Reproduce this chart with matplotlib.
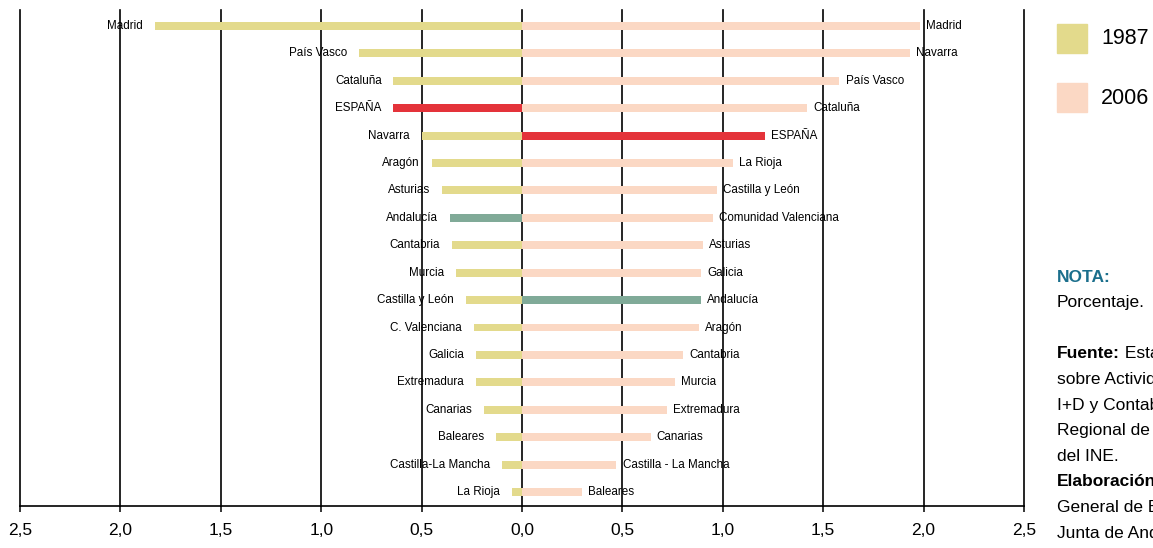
import matplotlib
matplotlib.use('Agg')
import matplotlib.pyplot as plt

# 1987 (left side), ordered top to bottom
regions_1987 = ['Madrid', 'País Vasco', 'Cataluña', 'ESPAÑA', 'Navarra', 'Aragón',
                'Asturias', 'Andalucía', 'Cantabria', 'Murcia', 'Castilla y León',
                'C. Valenciana', 'Galicia', 'Extremadura', 'Canarias', 'Baleares',
                'Castilla-La Mancha', 'La Rioja']
values_1987 = [1.83, 0.81, 0.64, 0.64, 0.50, 0.45, 0.40, 0.36, 0.35, 0.33, 0.28,
               0.24, 0.23, 0.23, 0.19, 0.13, 0.10, 0.05]

# 2006 (right side), ordered top to bottom
regions_2006 = ['Madrid', 'Navarra', 'País Vasco', 'Cataluña', 'ESPAÑA', 'La Rioja',
                'Castilla y León', 'Comunidad Valenciana', 'Asturias', 'Galicia',
                'Andalucía', 'Aragón', 'Cantabria', 'Murcia', 'Extremadura',
                'Canarias', 'Castilla - La Mancha', 'Baleares']
values_2006 = [1.98, 1.93, 1.58, 1.42, 1.21, 1.05, 0.97, 0.95, 0.90, 0.89, 0.89,
               0.88, 0.80, 0.76, 0.72, 0.64, 0.47, 0.30]

ticks = [-2.5, -2.0, -1.5, -1.0, -0.5, 0.0, 0.5, 1.0, 1.5, 2.0, 2.5]

c1987 = '#e3da8c'
c2006 = '#fbd8c4'
c_spain = '#e4333a'
c_anda = '#80aa98'
plt.rcParams['font.family'] = ['Liberation Sans', 'DejaVu Sans']

W, H = 1153, 548
fig = plt.figure(figsize=(W / 100, H / 100), dpi=100)
ax = fig.add_axes([20 / W, 1 - 506 / H, 1004 / W, 496 / H])


def bar_color(name, base):
    if name == 'ESPAÑA':
        return c_spain
    if name == 'Andalucía':
        return c_anda
    return base


for i, (name, v) in enumerate(zip(regions_1987, values_1987)):
    ax.barh(i, -v, height=0.29, color=bar_color(name, c1987), zorder=2)
    ax.annotate(name, (-v, i), xytext=(-8.5, 0), textcoords='offset points',
                ha='right', va='center', fontsize=8.4, zorder=3)

for i, (name, v) in enumerate(zip(regions_2006, values_2006)):
    ax.barh(i, v, height=0.29, color=bar_color(name, c2006), zorder=2)
    ax.annotate(name, (v, i), xytext=(4.5, 0), textcoords='offset points',
                ha='left', va='center', fontsize=8.4, zorder=3)

# vertical grid lines
for t in ticks:
    ax.axvline(t, color='black', lw=1.2, zorder=1, clip_on=False)

ax.set_xlim(-2.5, 2.5)
ax.set_ylim(len(regions_1987) - 1 + 0.51, -0.58)
ax.set_xticks(ticks)
ax.set_xticklabels([f'{abs(t):.1f}'.replace('.', ',') for t in ticks], fontsize=12.5)
ax.tick_params(axis='x', direction='out', length=4, width=1.1, pad=8)
ax.set_yticks([])
for s in ['left', 'right', 'top']:
    ax.spines[s].set_visible(False)
ax.spines['bottom'].set_linewidth(1.2)


def px(x, y):
    return x / W, 1 - y / H


# legend
for y0, col, lab in [(24, c1987, '1987'), (83, c2006, '2006')]:
    fig.patches.append(plt.Rectangle(px(1057, y0 + 29), 30 / W, 29 / H,
                                     transform=fig.transFigure, color=col))
    fig.text(*px(1101, y0 + 15), lab, fontsize=15.5, va='center', ha='left')

# notes
fig.text(*px(1057, 277), 'NOTA:', fontsize=12.5, fontweight='bold', color='#1b6f8c',
         va='center')
fig.text(*px(1057, 303), 'Porcentaje.', fontsize=12.5, va='center')

lines = [('Fuente:', ' Estadística'), ('', 'sobre Actividades de'), ('', 'I+D y Contabilidad'),
         ('', 'Regional de España'), ('', 'del INE.'), ('Elaboración:', ' Dirección'),
         ('', 'General de Economía.'), ('', 'Junta de Andalucía.')]
for k, (bold, rest) in enumerate(lines):
    y = 354 + k * 25.6
    if bold:
        tb = fig.text(*px(1057, y), bold, fontsize=12.5, fontweight='bold', va='center')
        ax.annotate(rest, xy=(1, 0.5), xycoords=tb, va='center', ha='left',
                    fontsize=12.5, annotation_clip=False)
    else:
        fig.text(*px(1057, y), rest, fontsize=12.5, va='center')

fig.savefig('out.png', dpi=100)
